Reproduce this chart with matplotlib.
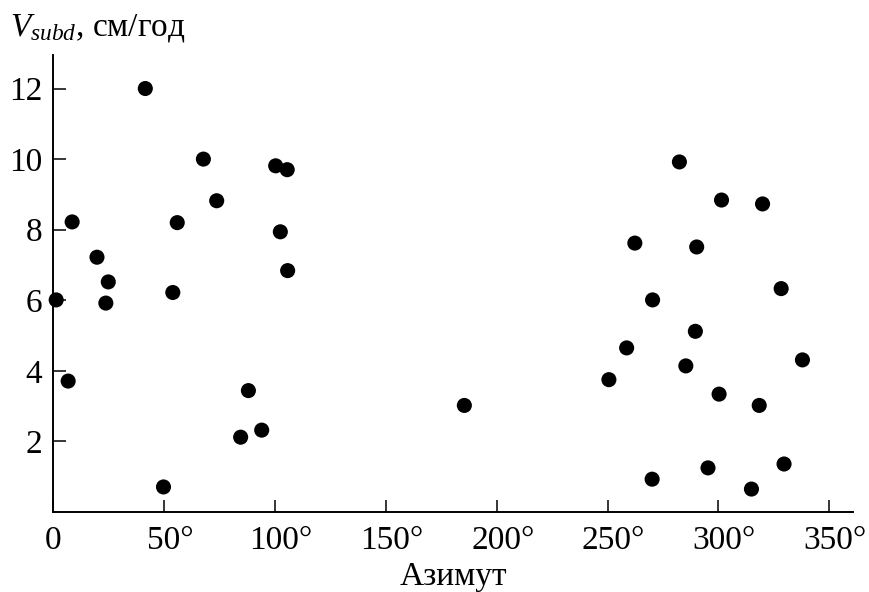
import matplotlib
matplotlib.use("Agg")
import matplotlib.pyplot as plt
from matplotlib.transforms import ScaledTranslation

plt.rcParams['font.family'] = ['Liberation Serif', 'DejaVu Serif']
plt.rcParams['mathtext.fontset'] = 'custom'
plt.rcParams['mathtext.rm'] = 'Liberation Serif'
plt.rcParams['mathtext.it'] = 'Liberation Serif:italic'

azimuth = [1.3, 6.7, 8.5, 19.7, 24.8, 23.7, 41.5, 49.7, 53.9, 55.9, 67.7, 73.7,
           84.5, 88.0, 94.0, 100.3, 105.5, 102.4, 105.7, 185.4,
           250.6, 258.6, 262.3, 270.3, 270.1, 282.4, 285.3, 289.6, 290.2, 295.3,
           300.3, 301.4, 314.9, 318.4, 319.9, 328.3, 329.6, 337.9]
v_subd = [6.01, 3.71, 8.22, 7.22, 6.52, 5.92, 12.0, 0.71, 6.22, 8.20, 10.0, 8.82,
          2.12, 3.44, 2.32, 9.81, 9.70, 7.94, 6.84, 3.02,
          3.75, 4.65, 7.62, 6.01, 0.93, 9.92, 4.14, 5.12, 7.51, 1.25,
          3.34, 8.84, 0.65, 3.02, 8.73, 6.33, 1.36, 4.31]

x_ticks = [0, 50, 100, 150, 200, 250, 300, 350]
x_tick_labels = ['0', '50°', '100°', '150°', '200°', '250°', '300°', '350°']
y_ticks = [2, 4, 6, 8, 10, 12]

fig = plt.figure(figsize=(8.7, 5.92), dpi=100)
ax = fig.add_axes([53.3/870, 80/592, (853-53.3)/870, (512-55)/592])

ax.scatter(azimuth, v_subd, s=118, color='black', edgecolors='none', clip_on=False, zorder=3)

ax.set_xlim(1.0, 360.7)
ax.set_ylim(0, 12.95)
ax.set_xticks(x_ticks)
ax.set_xticklabels(x_tick_labels)
ax.set_yticks(y_ticks)

for s in ['top', 'right']:
    ax.spines[s].set_visible(False)
for s in ['left', 'bottom']:
    ax.spines[s].set_linewidth(1.4)

ax.tick_params(direction='in', length=9, width=1.1, labelsize=24)
ax.tick_params(axis='x', pad=10)
ax.tick_params(axis='y', pad=8)

for lbl in ax.get_xticklabels():
    if '°' in lbl.get_text():
        lbl.set_transform(lbl.get_transform() + ScaledTranslation(6/100, 0, fig.dpi_scale_trans))

ax.set_xlabel('Азимут', fontsize=24, labelpad=4)
fig.text(10/870, 1 - 36/592, r'$V_{subd}$, см/год', fontsize=24, ha='left', va='baseline')

fig.savefig('out.png', dpi=100)
